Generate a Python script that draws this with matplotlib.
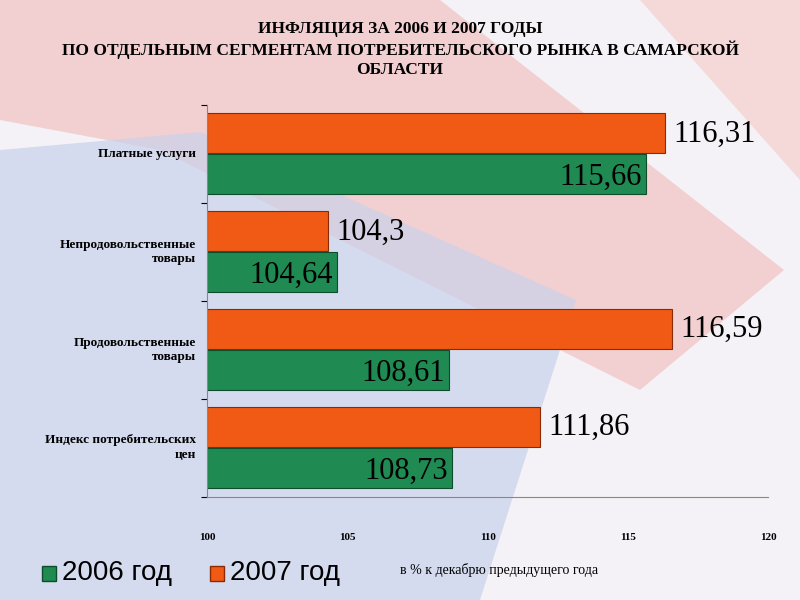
import matplotlib
matplotlib.use("Agg")
import matplotlib.pyplot as plt
from matplotlib.patches import Polygon

categories = ["Платные услуги", "Непродовольственные\nтовары", "Продовольственные\nтовары", "Индекс потребительских\nцен"]
v2006 = [115.66, 104.64, 108.61, 108.73]
v2007 = [116.31, 104.3, 116.59, 111.86]
lab2006 = ["115,66", "104,64", "108,61", "108,73"]
lab2007 = ["116,31", "104,3", "116,59", "111,86"]
xticks = [100, 105, 110, 115, 120]

GREEN = "#1f8a52"
ORANGE = "#f05a14"
SERIF = "Liberation Serif"

fig = plt.figure(figsize=(8, 6), dpi=100)
fig.patch.set_facecolor("#f4f2f6")
bg = fig.add_axes([0, 0, 1, 1], zorder=-1)
bg.set_xlim(0, 1); bg.set_ylim(0, 1); bg.axis("off")
bg.add_patch(Polygon([(0, 1), (0.55, 1), (0.98, 0.55), (0.8, 0.35), (0.2, 0.75), (0, 0.8)],
                     closed=True, fc="#f2c7c7", ec="none", alpha=0.8))
bg.add_patch(Polygon([(0, 0.75), (0.25, 0.78), (0.72, 0.5), (0.6, 0.0), (0, 0.0)],
                     closed=True, fc="#c9d2ec", ec="none", alpha=0.7))
bg.add_patch(Polygon([(0.8, 1), (1, 1), (1, 0.7)], closed=True, fc="#f5d9d9", ec="none"))

ax = fig.add_axes([0.259, 0.172, 0.701, 0.653])
ax.set_facecolor("none")
n = len(categories)
h = 0.41
for i in range(n):
    y = n - 1 - i
    ax.barh(y + 0.5 + h / 2 + 0.01, v2007[i] - 100, left=100, height=h, color=ORANGE, edgecolor="#8a2a00", lw=0.8)
    ax.barh(y + 0.5 - h / 2, v2006[i] - 100, left=100, height=h, color=GREEN, edgecolor="#0d4d2b", lw=0.8)
    ax.text(v2007[i] + 0.3, y + 0.5 + h / 2, lab2007[i], va="center", ha="left",
            fontsize=22, family=SERIF, color="black")
    ax.text(v2006[i] - 0.15, y + 0.5 - h / 2 - 0.03, lab2006[i], va="center", ha="right",
            fontsize=22, family=SERIF, color="black")
ax.set_xlim(100, 120)
ax.set_ylim(0, n)
ax.set_xticks(xticks)
ax.set_xticklabels([str(t) for t in xticks], fontsize=8, fontweight="bold", family=SERIF)
ax.tick_params(axis="x", length=0, pad=26)
ax.set_yticks(range(n + 1))
ax.set_yticklabels([])
ax.tick_params(axis="y", length=4)
for i, c in enumerate(categories):
    ax.text(99.6, n - 1 - i + 0.5, c, ha="right", va="center", fontsize=9.5,
            fontweight="bold", family=SERIF, linespacing=1.3)
for s in ["top", "right"]:
    ax.spines[s].set_visible(False)
ax.spines["left"].set_color("#888")
ax.spines["bottom"].set_color("#888")

fig.text(0.5, 0.965, "ИНФЛЯЦИЯ ЗА 2006 И 2007 ГОДЫ\nПО ОТДЕЛЬНЫМ СЕГМЕНТАМ ПОТРЕБИТЕЛЬСКОГО РЫНКА В САМАРСКОЙ\nОБЛАСТИ",
         ha="center", va="top", fontsize=12.5, fontweight="bold", family=SERIF, linespacing=1.25)

# legend
bg.add_patch(plt.Rectangle((0.052, 0.032), 0.018, 0.025, fc=GREEN, ec="#0d4d2b"))
bg.text(0.078, 0.045, "2006 год", fontsize=20, va="center", family="Liberation Sans")
bg.add_patch(plt.Rectangle((0.262, 0.032), 0.018, 0.025, fc=ORANGE, ec="#8a2a00"))
bg.text(0.288, 0.045, "2007 год", fontsize=20, va="center", family="Liberation Sans")
bg.text(0.5, 0.05, "в % к декабрю предыдущего года", fontsize=10, va="center", family=SERIF)

fig.savefig("out.png", dpi=100)
